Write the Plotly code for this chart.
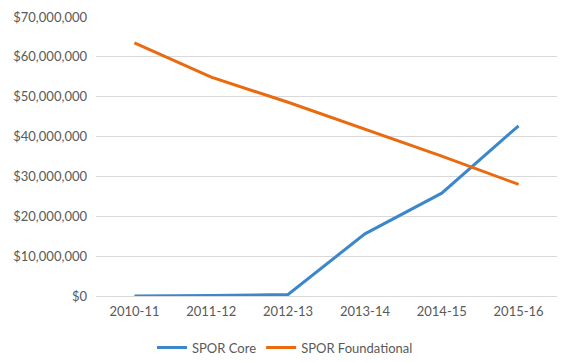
import plotly.graph_objects as go

years = ["2010-11", "2011-12", "2012-13", "2013-14", "2014-15", "2015-16"]
spor_core = [0, 100000, 400000, 15600000, 25800000, 42700000]
spor_foundational = [63500000, 54900000, 48600000, 41900000, 35100000, 28000000]
y_ticks = [0, 10000000, 20000000, 30000000, 40000000, 50000000, 60000000, 70000000]
y_tick_labels = ["$" + format(v, ",d") for v in y_ticks]

fig = go.Figure()
fig.add_trace(go.Scatter(x=years, y=spor_core, mode="lines", name="SPOR Core",
                         line=dict(color="#3C87CC", width=3)))
fig.add_trace(go.Scatter(x=years, y=spor_foundational, mode="lines", name="SPOR Foundational",
                         line=dict(color="#EA6A10", width=3)))

font = dict(family="Lato, Open Sans, sans-serif", size=13, color="#595959")
fig.update_layout(
    width=570, height=362,
    margin=dict(l=96, r=13, t=17, b=66, autoexpand=False),
    paper_bgcolor="white", plot_bgcolor="white",
    font=font,
    showlegend=True,
    legend=dict(orientation="h", xref="container", yref="container",
                x=0.5, xanchor="center", y=0.04, yanchor="middle",
                font=font, itemwidth=30),
)
fig.update_xaxes(type="category", range=[-0.5, 5.5], showgrid=False, automargin=False,
                 showline=False, ticks="", tickfont=font, ticklabelstandoff=6)
fig.update_yaxes(range=[0, 70000000], tickvals=y_ticks, ticktext=y_tick_labels,
                 automargin=False,
                 showgrid=True, gridcolor="#D9D9D9", gridwidth=1, zeroline=True,
                 zerolinecolor="#D9D9D9", zerolinewidth=1, showline=False,
                 ticks="", tickfont=font, ticklabelstandoff=8)

fig.write_html("out.html", config={"displayModeBar": False},
               post_script="document.body.style.margin='0';document.body.style.padding='0';")
